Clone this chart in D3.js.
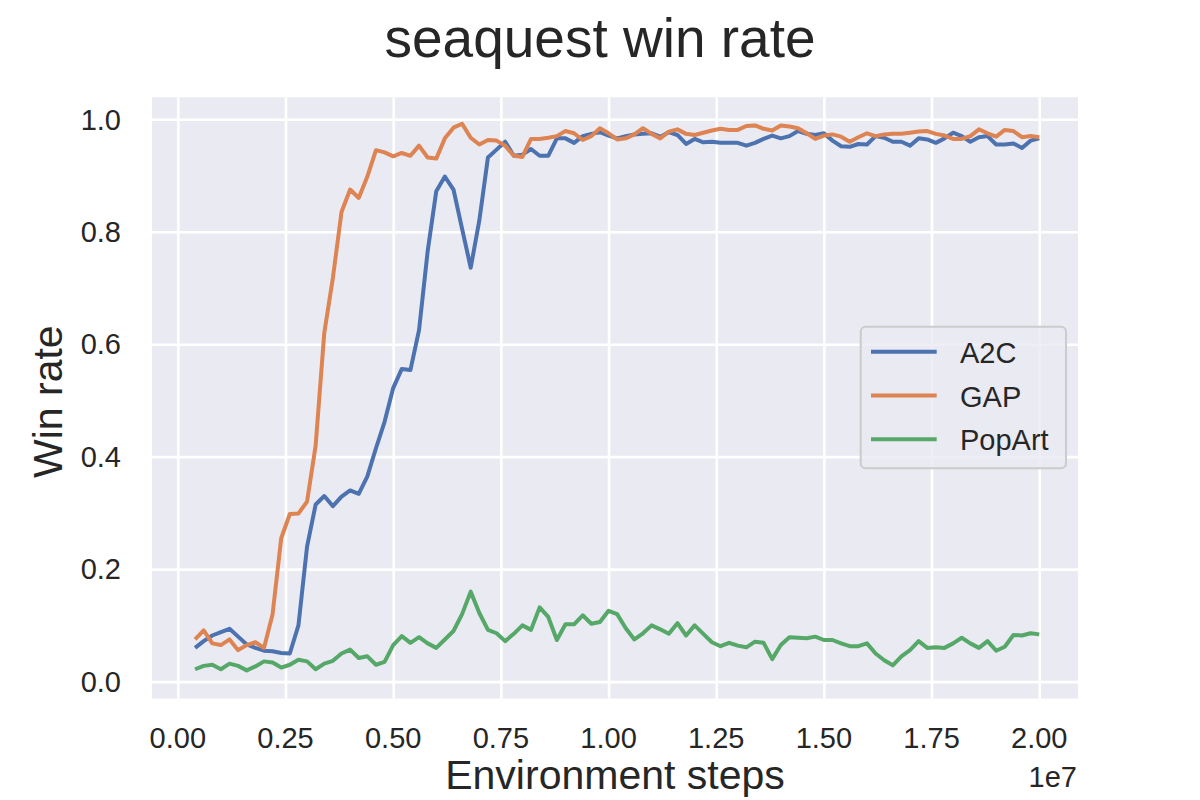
<!DOCTYPE html>
<html>
<head>
<meta charset="utf-8">
<script src="https://cdn.jsdelivr.net/npm/d3@7"></script>
<style>
    body { margin: 0; background: #ffffff; }
    text { font-family: "Liberation Sans", Arial, sans-serif; fill: #262626; }
</style>
</head>
<body>
<svg id="chart" width="1200" height="800"></svg>
<script>
// Environment steps, one sample every 2e5 steps
const steps = d3.range(4e5, 2.00001e7, 2e5);

// Win rate of each method
const a2c = [
    0.060, 0.072, 0.082, 0.088, 0.094, 0.080, 0.066, 0.060, 0.055, 0.054,
    0.051, 0.050, 0.100, 0.240, 0.315, 0.330, 0.312, 0.329, 0.340, 0.334,
    0.365, 0.415, 0.462, 0.522, 0.556, 0.554, 0.625, 0.765, 0.872, 0.898,
    0.875, 0.805, 0.736, 0.820, 0.932, 0.946, 0.960, 0.935, 0.937, 0.947,
    0.935, 0.935, 0.966, 0.966, 0.958, 0.970, 0.974, 0.977, 0.971, 0.966,
    0.970, 0.973, 0.974, 0.975, 0.969, 0.977, 0.972, 0.956, 0.965, 0.959,
    0.960, 0.958, 0.958, 0.958, 0.953, 0.958, 0.965, 0.971, 0.966, 0.970,
    0.979, 0.974, 0.972, 0.975, 0.962, 0.952, 0.951, 0.956, 0.955, 0.970,
    0.967, 0.960, 0.960, 0.953, 0.966, 0.964, 0.958, 0.966, 0.976, 0.970,
    0.960, 0.968, 0.970, 0.955, 0.955, 0.957, 0.949, 0.962, 0.966
];
const gap = [
    0.075, 0.091, 0.068, 0.065, 0.075, 0.056, 0.065, 0.070, 0.060, 0.120,
    0.255, 0.298, 0.299, 0.320, 0.420, 0.620, 0.718, 0.835, 0.875, 0.860,
    0.898, 0.945, 0.941, 0.934, 0.940, 0.935, 0.953, 0.932, 0.930, 0.966,
    0.985, 0.992, 0.967, 0.955, 0.963, 0.962, 0.953, 0.935, 0.933, 0.965,
    0.965, 0.967, 0.970, 0.979, 0.975, 0.963, 0.970, 0.984, 0.975, 0.964,
    0.966, 0.973, 0.984, 0.974, 0.966, 0.978, 0.982, 0.974, 0.972, 0.976,
    0.980, 0.983, 0.981, 0.981, 0.988, 0.989, 0.983, 0.980, 0.989, 0.987,
    0.984, 0.975, 0.965, 0.971, 0.973, 0.969, 0.960, 0.968, 0.975, 0.970,
    0.973, 0.974, 0.974, 0.976, 0.978, 0.979, 0.974, 0.971, 0.965, 0.965,
    0.970, 0.982, 0.975, 0.969, 0.981, 0.979, 0.968, 0.970, 0.968
];
const popart = [
    0.022, 0.028, 0.030, 0.022, 0.032, 0.028, 0.020, 0.027, 0.036, 0.034,
    0.025, 0.030, 0.039, 0.036, 0.022, 0.032, 0.037, 0.050, 0.057, 0.042,
    0.045, 0.030, 0.035, 0.065, 0.081, 0.069, 0.079, 0.068, 0.060, 0.075,
    0.090, 0.120, 0.160, 0.122, 0.092, 0.086, 0.072, 0.085, 0.100, 0.092,
    0.132, 0.115, 0.074, 0.102, 0.102, 0.118, 0.103, 0.106, 0.126, 0.120,
    0.095, 0.075, 0.086, 0.100, 0.093, 0.085, 0.104, 0.082, 0.100, 0.085,
    0.070, 0.063, 0.069, 0.064, 0.061, 0.071, 0.069, 0.040, 0.065, 0.079,
    0.078, 0.077, 0.080, 0.074, 0.074, 0.068, 0.063, 0.063, 0.068, 0.050,
    0.038, 0.029, 0.045, 0.056, 0.072, 0.060, 0.061, 0.060, 0.068, 0.078,
    0.068, 0.060, 0.072, 0.055, 0.062, 0.083, 0.082, 0.086, 0.084
];

const seriesNames = ["A2C", "GAP", "PopArt"];
const seriesColors = ["#4c72b0", "#dd8452", "#55a868"];
const xTicks = [0, 0.25e7, 0.5e7, 0.75e7, 1e7, 1.25e7, 1.5e7, 1.75e7, 2e7];
const yTicks = [0, 0.2, 0.4, 0.6, 0.8, 1.0];

const svg = d3.select("#chart");

// Plot area
const plotLeft = 152, plotRight = 1078, plotTop = 97.3, plotBottom = 698.5;

const x = d3.scaleLinear().domain([-0.06e7, 2.09e7]).range([plotLeft, plotRight]);
const y = d3.scaleLinear().domain([-0.030, 1.039]).range([plotBottom, plotTop]);

// Background
svg.append("rect")
    .attr("x", plotLeft)
    .attr("y", plotTop)
    .attr("width", plotRight - plotLeft)
    .attr("height", plotBottom - plotTop)
    .attr("fill", "#eaeaf2");

// Grid lines
svg.append("g")
    .attr("transform", "translate(0," + plotBottom + ")")
    .call(d3.axisBottom(x).tickValues(xTicks).tickSize(-(plotBottom - plotTop)).tickFormat(""))
    .call(g => g.select(".domain").remove())
    .call(g => g.selectAll("line").attr("stroke", "#ffffff").attr("stroke-width", 2.6));

svg.append("g")
    .attr("transform", "translate(" + plotLeft + ",0)")
    .call(d3.axisLeft(y).tickValues(yTicks).tickSize(-(plotRight - plotLeft)).tickFormat(""))
    .call(g => g.select(".domain").remove())
    .call(g => g.selectAll("line").attr("stroke", "#ffffff").attr("stroke-width", 2.6));

// Tick labels
svg.append("g")
    .selectAll("text")
    .data(xTicks)
    .join("text")
    .attr("x", d => x(d))
    .attr("y", 748.3)
    .attr("text-anchor", "middle")
    .attr("font-size", 29)
    .text(d => d3.format(".2f")(d / 1e7));

svg.append("g")
    .selectAll("text")
    .data(yTicks)
    .join("text")
    .attr("x", 121)
    .attr("y", d => y(d) + 10.3)
    .attr("text-anchor", "end")
    .attr("font-size", 29)
    .text(d => d3.format(".1f")(d));

// Offset label for x axis
svg.append("text")
    .attr("x", 1077)
    .attr("y", 786.7)
    .attr("text-anchor", "end")
    .attr("font-size", 29)
    .text("1e7");

// Lines
const line = d3.line()
    .x((d, i) => x(steps[i]))
    .y(d => y(d));

[a2c, gap, popart].forEach((vals, k) => {
    svg.append("path")
        .datum(vals)
        .attr("d", line)
        .attr("fill", "none")
        .attr("stroke", seriesColors[k])
        .attr("stroke-width", 4)
        .attr("stroke-linejoin", "round");
});

// Axis labels and title
svg.append("text")
    .attr("x", (plotLeft + plotRight) / 2)
    .attr("y", 789)
    .attr("text-anchor", "middle")
    .attr("font-size", 41)
    .text("Environment steps");

svg.append("text")
    .attr("transform", "translate(61.7,401.7) rotate(-90)")
    .attr("text-anchor", "middle")
    .attr("font-size", 41)
    .text("Win rate");

svg.append("text")
    .attr("x", 600)
    .attr("y", 56.7)
    .attr("text-anchor", "middle")
    .attr("font-size", 55)
    .text("seaquest win rate");

// Legend
const legend = svg.append("g");
legend.append("rect")
    .attr("x", 860.7)
    .attr("y", 326.7)
    .attr("width", 205.3)
    .attr("height", 141.6)
    .attr("rx", 5)
    .attr("fill", "#eaeaf2")
    .attr("fill-opacity", 0.8)
    .attr("stroke", "#cccccc")
    .attr("stroke-width", 2.1);

seriesNames.forEach((name, k) => {
    var ry = 351.7 + k * 43.8;
    legend.append("line")
        .attr("x1", 871)
        .attr("x2", 936.7)
        .attr("y1", ry)
        .attr("y2", ry)
        .attr("stroke", seriesColors[k])
        .attr("stroke-width", 4);
    legend.append("text")
        .attr("x", 960)
        .attr("y", ry + 11)
        .attr("font-size", 29)
        .text(name);
});
</script>
</body>
</html>
